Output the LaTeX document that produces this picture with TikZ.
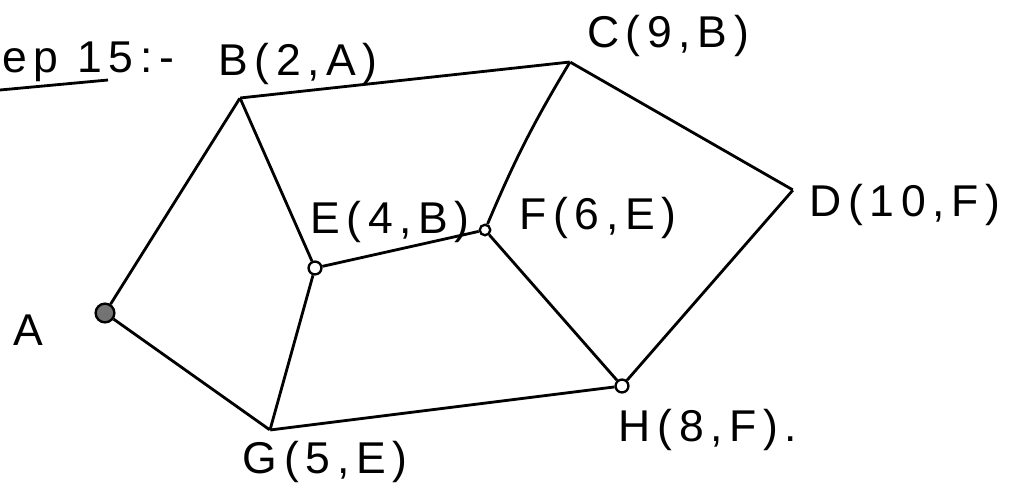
\documentclass[tikz,border=0pt]{standalone}
\usepackage{fontspec}
\setmainfont{Liberation Sans}
\newfontfamily\hand[LetterSpace=15]{Liberation Sans}
\begin{document}
\begin{tikzpicture}[x=0.03cm,y=-0.03cm,
  edge/.style={line width=2.4pt,black},
  dot/.style={circle,draw,line width=2pt,inner sep=0pt,minimum size=#1},
  corner/.style={inner sep=0pt,minimum size=0pt},
  lbl/.style={font=\hand\fontsize{38}{44}\selectfont,inner sep=0pt}]
\useasboundingbox[fill=white] (0,0) rectangle (1013,499);
% vertices
\node[dot=16pt,fill=black!55] (A) at (105,313) {};
\node[corner] (B) at (240,98) {};
\node[corner] (C) at (570,62) {};
\node[corner] (D) at (793,190) {};
\node[dot=11pt] (E) at (315,268) {};
\node[dot=9pt] (F) at (485,230) {};
\node[corner] (G) at (270,430) {};
\node[dot=11pt] (H) at (622,386) {};
% edges
\draw[edge] (A) -- (B);
\draw[edge] (A) -- (G);
\draw[edge] (B) -- (E);
\draw[edge] (B) -- (C);
\draw[edge] (C) to[bend right=4] (F);
\draw[edge] (C) -- (D);
\draw[edge] (D) -- (H);
\draw[edge] (E) -- (F);
\draw[edge] (E) -- (G);
\draw[edge] (F) -- (H);
\draw[edge] (G) -- (H);
% labels
\node[lbl] (lA) at (28,330) {A};
\node[lbl] (lB) at (298,64) {B(2,A)};
\node[lbl] (lC) at (668,36) {C(9,B)};
\node[lbl] (lD) at (905,205) {D(10,F)};
\node[lbl] (lE) at (390,222) {E(4,B)};
\node[lbl] (lF) at (598,218) {F(6,E)};
\node[lbl] (lG) at (325,462) {G(5,E)};
\node[lbl] (lH) at (708,430) {H(8,F).};
\node[lbl,anchor=west] (title) at (2,62) {ep 15:-};
\coordinate (u1) at (0,90);
\coordinate (u2) at (108,80);
\draw[edge] (u1) -- (u2);
\end{tikzpicture}
\end{document}
